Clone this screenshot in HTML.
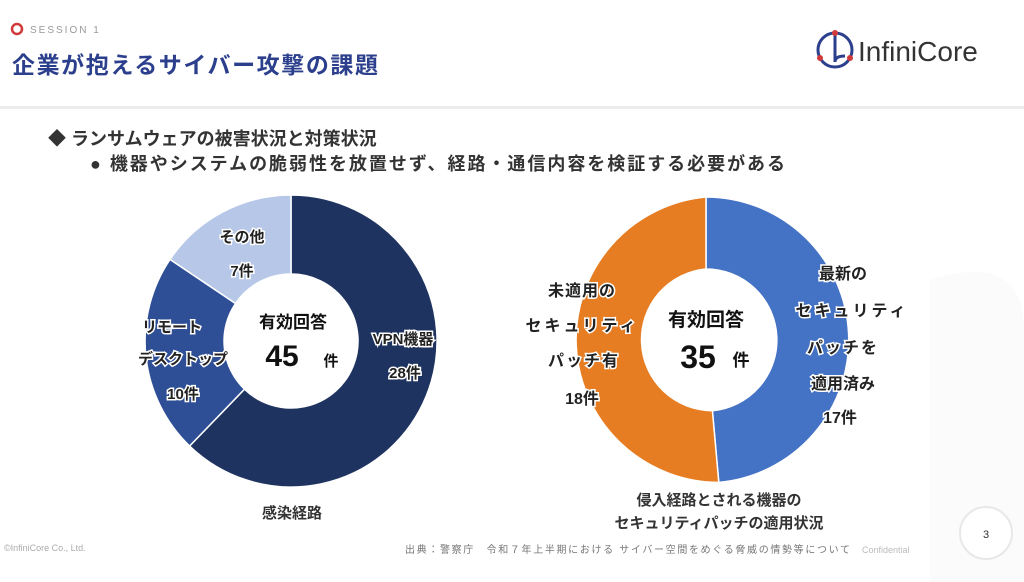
<!DOCTYPE html>
<html><head><meta charset="utf-8">
<style>
html,body{margin:0;padding:0;background:#fff;}
body{width:1024px;height:582px;overflow:hidden;position:relative;font-family:"Liberation Sans","Noto Sans CJK JP",sans-serif;}
</style></head><body>
<svg width="1024" height="582" style="position:absolute;left:0;top:0" font-family="Liberation Sans, Noto Sans CJK JP, sans-serif">
  <path d="M930 280 Q1024 250 1024 330 L1024 582 L930 582 Z" fill="#fbfbfb"/>
  <circle cx="17" cy="29" r="5" fill="none" stroke="#d03a3a" stroke-width="2.5"/>
  <text x="30" y="33" font-size="10" fill="#999" letter-spacing="2">SESSION 1</text>
  <text x="12" y="73" font-size="23" font-weight="bold" fill="#2b3f8c" textLength="366">企業が抱えるサイバー攻撃の課題</text>
  <rect x="0" y="106" width="1024" height="3" fill="#ececec"/>
  <circle cx="835" cy="50" r="17" fill="none" stroke="#2b3f8c" stroke-width="3"/>
  <path d="M835 33 L835 62 Q835 56 845 56" fill="none" stroke="#2b3f8c" stroke-width="3"/>
  <circle cx="835" cy="33" r="3" fill="#d03a3a"/><circle cx="820" cy="58" r="3" fill="#d03a3a"/><circle cx="850" cy="58" r="3" fill="#d03a3a"/>
  <text x="858" y="61" font-size="28" fill="#333">InfiniCore</text>
  <text x="48" y="145" font-size="18" font-weight="bold" fill="#333">◆ ランサムウェアの被害状況と対策状況</text>
  <text x="90" y="170" font-size="18" font-weight="bold" fill="#333" textLength="695">● 機器やシステムの脆弱性を放置せず、経路・通信内容を検証する必要がある</text>
  <g stroke="#fff" stroke-width="1.5">
    <path d="M291 195 A146 146 0 1 1 189.6 446.0 L244.5 389.2 A67 67 0 1 0 291 274 Z" fill="#1f3360"/>
    <path d="M189.6 446.0 A146 146 0 0 1 170.0 259.4 L235.5 303.5 A67 67 0 0 0 244.5 389.2 Z" fill="#2e4f96"/>
    <path d="M170.0 259.4 A146 146 0 0 1 291 195 L291 274 A67 67 0 0 0 235.5 303.5 Z" fill="#b7c7e8"/>
  </g>
  <g stroke="#fff" stroke-width="1.5">
    <path d="M706 197 A143 143 0 0 1 718.8 482.4 L712.4 410.7 A71 71 0 0 0 706 269 Z" fill="#4472c4"/>
    <path d="M718.8 482.4 A143 143 0 0 1 706 197 L706 269 A71 71 0 0 0 712.4 410.7 Z" fill="#e67d22"/>
  </g>
  <g font-weight="bold" fill="#222" stroke="#fff" stroke-width="3" paint-order="stroke" text-anchor="middle" font-size="15">
    <text x="242" y="242">その他</text>
    <text x="242" y="276">7件</text>
    <text x="172" y="332">リモート</text>
    <text x="183" y="364">デスクトップ</text>
    <text x="183" y="399">10件</text>
    <text x="403" y="344">VPN機器</text>
    <text x="405" y="378">28件</text>
    <text x="582" y="296" font-size="16" letter-spacing="1">未適用の</text>
    <text x="582" y="331" font-size="16" letter-spacing="3">セキュリティ</text>
    <text x="584" y="366" font-size="16" letter-spacing="2">パッチ有</text>
    <text x="582" y="404" font-size="16">18件</text>
    <text x="843" y="279" font-size="16">最新の</text>
    <text x="852" y="316" font-size="16" letter-spacing="3">セキュリティ</text>
    <text x="843" y="353" font-size="16" letter-spacing="2">パッチを</text>
    <text x="843" y="389" font-size="16">適用済み</text>
    <text x="840" y="423" font-size="16">17件</text>
  </g>
  <g font-weight="bold" fill="#111" text-anchor="middle">
    <text x="293" y="328" font-size="17">有効回答</text>
    <text x="282" y="366" font-size="30">45</text>
    <text x="331" y="366" font-size="15">件</text>
    <text x="706" y="326" font-size="19">有効回答</text>
    <text x="698" y="368" font-size="32">35</text>
    <text x="741" y="366" font-size="17">件</text>
    <text x="292" y="518" font-size="15" fill="#333">感染経路</text>
    <text x="719" y="505" font-size="15" fill="#333">侵入経路とされる機器の</text>
    <text x="719" y="528" font-size="15" fill="#333">セキュリティパッチの適用状況</text>
  </g>
  <text x="4" y="551" font-size="9" fill="#aaa">©InfiniCore Co., Ltd.</text>
  <text x="405" y="553" font-size="10" fill="#777" textLength="445">出典：警察庁　令和７年上半期における サイバー空間をめぐる脅威の情勢等について</text>
  <text x="862" y="553" font-size="9" fill="#bbb">Confidential</text>
  <circle cx="986" cy="533" r="26" fill="#fff" stroke="#e8e8e8" stroke-width="2"/>
  <text x="986" y="538" font-size="11" fill="#333" text-anchor="middle">3</text>
</svg>
</body></html>
